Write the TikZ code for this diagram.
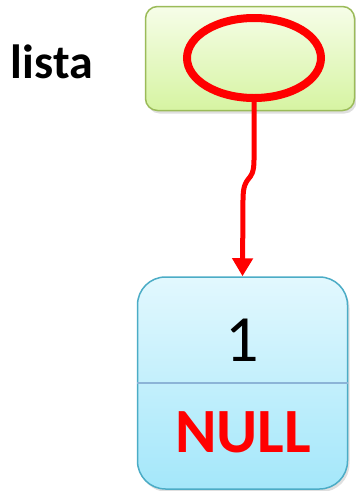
\documentclass[tikz,border=0pt]{standalone}
\usepackage{fontspec}
\setmainfont{Carlito}
\usetikzlibrary{arrows.meta,shadows}

\definecolor{headline}{RGB}{155,187,89}
\definecolor{headtop}{RGB}{246,253,232}
\definecolor{headbot}{RGB}{214,244,162}
\definecolor{nodeline}{RGB}{75,172,198}
\definecolor{nodetop}{RGB}{226,248,254}
\definecolor{nodebot}{RGB}{164,231,250}
\definecolor{divline}{RGB}{140,180,215}

\tikzset{
  cellbox/.style={rectangle, rounded corners=12pt, line width=1.5pt,
    drop shadow={opacity=0.25, shadow xshift=2pt, shadow yshift=-3pt}},
  pointer/.style={red, line width=5pt, line cap=round}
}

\begin{document}
\begin{tikzpicture}[x=1pt,y=-1pt]
  \useasboundingbox (0,0) rectangle (356,491);
  % ponteiro lista
  \node[font=\bfseries\fontsize{48}{56}\selectfont] (nome) at (52,62) {lista};
  \node[cellbox, draw=headline, top color=headtop, bottom color=headbot,
    minimum width=209pt, minimum height=104pt] (cab) at (250,58.5) {};
  \draw[red, line width=8pt] (254,58) ellipse (67pt and 40pt);
  \coordinate (ptr) at (254,98);
  % primeiro no
  \node[cellbox, draw=nodeline, top color=nodetop, bottom color=nodebot,
    minimum width=210pt, minimum height=212pt, rounded corners=28pt] (no) at (242.5,383) {};
  \draw[divline, line width=1.5pt] (no.west |- 0,383) -- (no.east |- 0,383);
  \node[font=\fontsize{66}{70}\selectfont] (dado) at (242,340) {1};
  \node[red, font=\bfseries\fontsize{63}{68}\selectfont] (prox) at (243,432) {NULL};
  % seta
  \draw[pointer, -{Triangle[length=18pt,width=20pt]}] (ptr) -- (254,160)
    .. controls (254,185) and (243,172) .. (243,200) -- (no.north);
\end{tikzpicture}
\end{document}
